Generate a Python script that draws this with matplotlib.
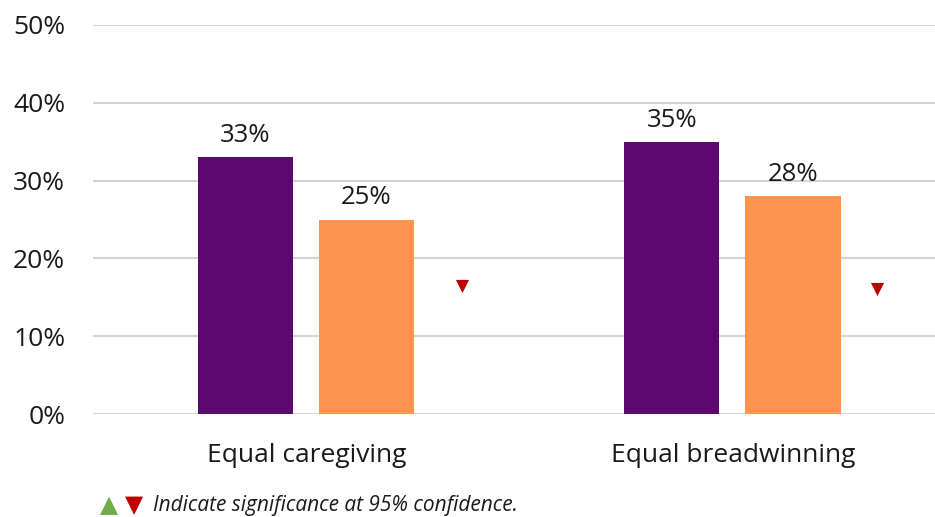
import matplotlib
matplotlib.use("Agg")
import matplotlib.pyplot as plt
import numpy as np

plt.rcParams['font.family'] = ['Open Sans', 'DejaVu Sans']

categories = ["Equal caregiving", "Equal breadwinning"]
series_a = [33, 35]          # purple series
series_b = [25, 28]          # orange series
sig_marker_y = [16.5, 16.1]  # level of the significance markers
y_ticks = [0, 10, 20, 30, 40, 50]
footnote = "Indicate significance at 95% confidence."

purple = "#5C0870"
orange = "#FF944F"
grid_col = "#D4D4D4"
red = "#C00000"
green = "#70AD47"
text_col = "#1A1A1A"

W, H = 935, 517
fig = plt.figure(figsize=(W / 100, H / 100), dpi=100)
ax = fig.add_axes([93 / W, 1 - 414 / H, (935 - 93) / W, (414 - 25) / H])

x = np.arange(len(categories))
bw = 0.223
ax.bar(x - 0.143, series_a, width=bw, color=purple, zorder=3)
ax.bar(x + 0.141, series_b, width=bw, color=orange, zorder=3)

for xi, v in zip(x - 0.143, series_a):
    ax.annotate(f"{v}%", (xi, v), xytext=(0, 6.5), textcoords="offset points",
                ha="center", va="bottom", fontsize=18.5, color=text_col)
for xi, v in zip(x + 0.141, series_b):
    ax.annotate(f"{v}%", (xi, v), xytext=(0, 6.5), textcoords="offset points",
                ha="center", va="bottom", fontsize=18.5, color=text_col)

ax.scatter([0.365, 1.338], sig_marker_y, marker="v", s=90, color=red,
           zorder=4, linewidths=0)

ax.set_xlim(-0.5, 1.474)
ax.set_ylim(0, 50)
ax.set_yticks(y_ticks)
ax.set_yticklabels([f"{t}%" for t in y_ticks], fontsize=19, color=text_col)
ax.set_xticks(x)
ax.set_xticklabels(categories, fontsize=19, color=text_col)
ax.tick_params(axis="both", length=0)
ax.tick_params(axis="y", pad=20)
ax.tick_params(axis="x", pad=21)
ax.grid(axis="y", color=grid_col, linewidth=1.5, zorder=0)
for s in ax.spines.values():
    s.set_visible(False)

# footnote with legend triangles
fig.text(109 / W, 1 - 505 / H, "\u25B2", color=green, fontsize=17,
         ha="center", va="center", family=["DejaVu Sans"])
fig.text(134 / W, 1 - 505 / H, "\u25BC", color=red, fontsize=17,
         ha="center", va="center", family=["DejaVu Sans"])
fig.text(153 / W, 1 - 506 / H, footnote, fontsize=15, style="italic",
         ha="left", va="center", color=text_col)

fig.savefig("out.png", dpi=100)
